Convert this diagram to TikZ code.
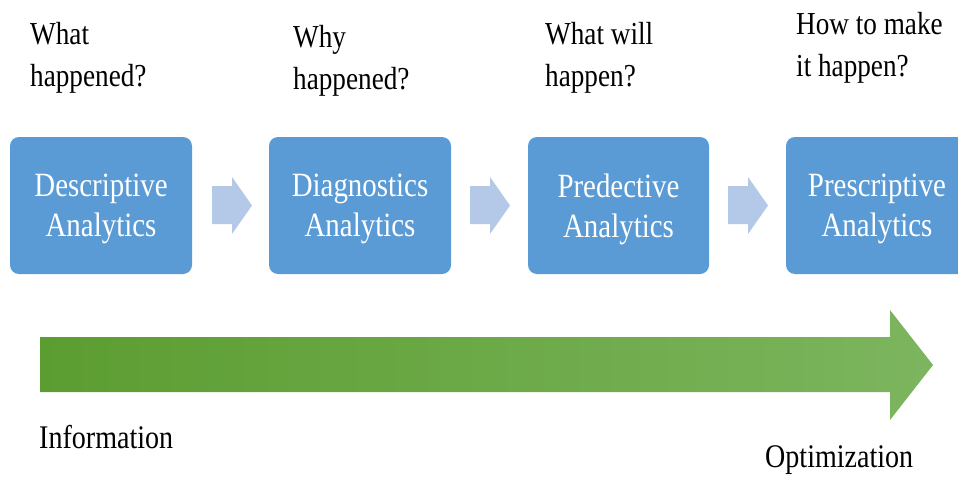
\documentclass[tikz,border=0pt]{standalone}
\usepackage{fontspec}
\setmainfont{Liberation Serif}[FakeStretch=0.85]
\begin{document}
\begin{tikzpicture}[x=1pt,y=-1pt,
  stagebox/.style={fill=boxblue,rounded corners=9pt},
  stagetext/.style={text=white,align=center,inner sep=0pt,
    font=\fontsize{34}{40}\selectfont},
  question/.style={anchor=north west,align=left,inner sep=0pt,
    font=\fontsize{32}{42}\selectfont},
  endlabel/.style={anchor=base west,inner sep=0pt,
    font=\fontsize{33}{40}\selectfont},
  chevron/.style={fill=chevblue}]
\definecolor{boxblue}{RGB}{91,155,213}
\definecolor{chevblue}{RGB}{180,200,231}
\definecolor{greenL}{RGB}{92,157,49}
\definecolor{greenR}{RGB}{124,181,94}
\useasboundingbox (0,0) rectangle (958,479);
\clip (0,0) rectangle (958,479);

% analytics stages
\path[stagebox] (10,137) rectangle (192,274);
\path[stagebox] (269,137) rectangle (451,274);
\path[stagebox] (528,137) rectangle (709,274);
\path[stagebox] (786,137) rectangle (968,274);
\node[stagetext] (s1) at (101,209) {Descriptive\\Analytics};
\node[stagetext] (s2) at (360,209) {Diagnostics\\Analytics};
\node[stagetext] (s3) at (618.5,209) {Predective\\Analytics};
\node[stagetext] (s4) at (877,209) {Prescriptive\\Analytics};

% chevrons between stages
\foreach \x in {212,470,728}{
  \path[chevron] (\x,186) -- (\x+20,186) -- (\x+20,177) -- (\x+40,205.5)
    -- (\x+20,234) -- (\x+20,224) -- (\x,224) -- cycle;
}

% questions above the stages
\node[question] (q1) at (30,22) {What\\happened?};
\node[question] (q2) at (293,25) {Why\\happened?};
\node[question] (q3) at (545,22) {What will\\happen?};
\node[question] (q4) at (796,12) {How to make\\it happen?};

% progress arrow
\shade[left color=greenL,right color=greenR]
  (40,337) -- (890,337) -- (890,310) -- (933,365) -- (890,420)
  -- (890,392) -- (40,392) -- cycle;
\node[endlabel] (info) at (39,448) {Information};
\node[endlabel] (opt) at (765,467) {Optimization};
\end{tikzpicture}
\end{document}
